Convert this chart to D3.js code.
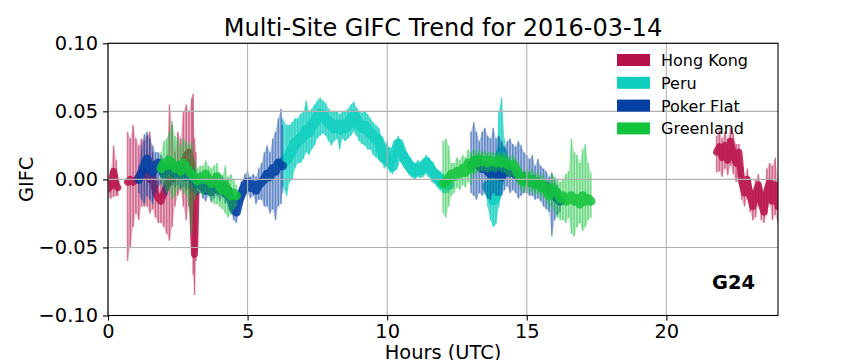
<!DOCTYPE html>
<html>
<head>
<meta charset="utf-8">
<script src="https://cdn.jsdelivr.net/npm/d3@7/dist/d3.min.js"></script>
<style>
body { margin: 0; background: #fff; }
text { font-family: "DejaVu Sans", sans-serif; fill: #000; }
</style>
</head>
<body>
<svg id="chart" width="864" height="360"></svg>
<script>
// sites, legend order
var siteNames = ["Hong Kong", "Peru", "Poker Flat", "Greenland"];
var siteColors = ["#b8124a", "#11cfbf", "#0340a3", "#14c43c"];
var xTicks = [0, 5, 10, 15, 20];
var yTicks = [-0.10, -0.05, 0.00, 0.05, 0.10];
var satellite = "G24";

// null breaks a series into separate passes
var hongKongHours = [0.0,0.1,0.2,0.3,0.35,null,
  0.7,0.8,0.9,1.0,1.1,1.2,1.3,1.4,1.5,1.6,1.7,1.8,1.9,2.0,2.1,2.2,2.3,2.4,2.5,2.6,2.7,2.8,2.9,3.0,3.05,3.1,3.15,null,
  21.8,21.9,22.0,22.1,22.2,22.3,22.4,22.5,22.6,22.7,22.8,22.9,23.0,23.1,23.2,23.3,23.4,23.5,23.6,23.7,23.8,23.9,24.0];
var hongKongMid = [-0.007,-0.005,0.006,-0.004,-0.006,null,
  -0.002,0.0,-0.002,0.0,0.002,0.005,0.006,0.002,0.0,0.002,-0.01,-0.014,-0.016,-0.01,-0.005,0.0,0.0,0.005,0.008,0.01,0.012,0.018,0.02,0.01,-0.03,-0.055,-0.01,null,
  0.02,0.024,0.016,0.025,0.014,0.028,0.018,0.012,0.02,-0.002,-0.01,0.0,-0.012,-0.02,-0.01,-0.004,-0.018,-0.024,-0.008,-0.002,-0.016,-0.004,-0.02];
var hongKongLow = [-0.014,-0.014,-0.013,-0.012,-0.012,null,
  -0.06,-0.05,-0.035,-0.025,-0.03,-0.02,-0.02,-0.02,-0.025,-0.022,-0.028,-0.032,-0.032,-0.035,-0.04,-0.045,-0.035,-0.02,-0.012,-0.008,-0.02,-0.03,-0.02,-0.03,-0.07,-0.085,-0.06,null,
  0.005,0.006,0.002,0.008,0.003,0.01,0.004,-0.002,0.002,-0.015,-0.02,-0.014,-0.024,-0.03,-0.028,-0.018,-0.03,-0.032,-0.026,-0.018,-0.03,-0.026,-0.032];
var hongKongHigh = [0.0,0.006,0.025,0.014,0.0,null,
  0.035,0.03,0.04,0.03,0.025,0.03,0.028,0.032,0.035,0.02,0.01,0.0,0.0,0.005,0.012,0.055,0.04,0.02,0.035,0.03,0.05,0.055,0.05,0.06,0.063,0.03,0.02,null,
  0.032,0.036,0.03,0.035,0.03,0.038,0.034,0.026,0.026,0.01,0.0,0.008,0.0,-0.008,0.0,0.004,-0.005,-0.01,0.008,0.012,0.01,0.016,0.0];

var peruHours = [6.25,6.4,6.5,6.6,6.7,6.8,6.9,7.0,7.1,7.2,7.3,7.4,7.5,7.6,7.7,7.8,7.9,8.0,8.1,8.2,8.3,8.4,8.5,8.6,8.7,8.8,8.9,9.0,
  9.1,9.2,9.3,9.4,9.5,9.6,9.7,9.8,9.9,10.0,10.1,10.2,10.3,10.4,10.5,10.6,10.7,10.8,10.9,11.0,11.1,11.2,11.3,11.4,11.5,11.6,11.7,11.8,11.9,12.0,12.2,null,
  13.6,13.7,13.8,13.9,14.0,14.1,14.2];
var peruMid = [0.012,0.015,0.018,0.022,0.026,0.028,0.03,0.032,0.036,0.035,0.04,0.042,0.046,0.048,0.047,0.044,0.042,0.04,0.038,0.04,0.037,0.04,0.038,0.04,0.044,0.047,0.044,0.04,
  0.038,0.039,0.036,0.034,0.032,0.03,0.028,0.022,0.016,0.02,0.012,0.01,0.02,0.026,0.02,0.016,0.013,0.01,0.007,0.006,0.008,0.007,0.008,0.012,0.01,0.005,0.004,0.001,-0.001,-0.003,-0.004,null,
  -0.005,-0.01,-0.015,-0.012,0.01,0.02,0.01];
var peruLow = [-0.005,-0.012,-0.002,0.0,0.008,0.012,0.012,0.015,0.02,0.018,0.022,0.025,0.03,0.032,0.034,0.032,0.028,0.025,0.028,0.03,0.022,0.03,0.028,0.03,0.032,0.035,0.032,0.028,
  0.026,0.025,0.022,0.022,0.018,0.016,0.014,0.012,0.008,0.012,0.005,0.004,0.012,0.018,0.013,0.009,0.006,0.003,0.001,0.0,0.002,0.001,0.002,0.005,0.004,-0.002,-0.003,-0.006,-0.008,-0.01,-0.01,null,
  -0.02,-0.03,-0.035,-0.033,-0.02,-0.01,0.0];
var peruHigh = [0.045,0.04,0.04,0.042,0.045,0.045,0.048,0.05,0.058,0.05,0.052,0.055,0.058,0.06,0.058,0.056,0.052,0.05,0.05,0.05,0.048,0.05,0.05,0.052,0.055,0.057,0.053,0.05,
  0.049,0.05,0.048,0.045,0.042,0.04,0.038,0.032,0.025,0.028,0.02,0.018,0.028,0.032,0.027,0.022,0.02,0.016,0.013,0.012,0.014,0.013,0.014,0.018,0.016,0.012,0.01,0.007,0.006,0.004,0.003,null,
  0.005,0.01,0.005,0.01,0.05,0.06,0.03];

var pokerHours = [1.1,1.2,1.3,1.4,1.5,1.6,1.7,1.8,1.9,2.0,2.1,2.2,2.3,2.4,2.5,2.6,2.7,2.8,2.9,3.0,3.1,3.2,3.3,3.4,3.5,3.6,3.7,3.8,3.9,4.0,
  4.1,4.2,4.3,4.4,4.5,4.6,4.7,4.8,4.9,5.0,5.1,5.2,5.3,5.4,5.5,5.6,5.7,5.8,5.9,6.0,6.1,6.2,6.25,null,
  13.0,13.1,13.2,13.3,13.4,13.5,13.6,13.7,13.8,13.9,14.0,14.1,14.2,14.3,14.4,14.5,14.6,14.7,14.8,14.9,15.0,15.1,15.2,15.3,15.4,15.5,15.6,15.7,15.8,15.9,16.0,16.1,16.2];
var pokerMid = [0.0,0.005,0.01,0.015,0.008,0.005,0.01,0.012,0.01,0.004,0.008,0.007,0.006,0.004,0.006,0.003,0.005,0.002,0.004,0.001,0.0,-0.004,-0.002,-0.006,-0.008,-0.004,-0.009,-0.006,-0.004,-0.008,
  -0.005,-0.01,-0.008,-0.015,-0.022,-0.024,-0.015,-0.01,-0.004,-0.002,-0.006,-0.004,-0.008,-0.004,-0.002,0.0,0.004,0.002,0.008,0.006,0.012,0.01,0.01,null,
  0.01,0.012,0.014,0.01,0.008,0.01,0.006,0.004,0.008,0.004,0.006,0.002,0.006,0.008,0.005,0.006,0.004,0.002,0.0,0.002,0.0,-0.002,0.0,-0.003,-0.002,-0.004,-0.006,-0.005,-0.008,-0.01,-0.012,-0.014,-0.016];
var pokerLow = [-0.01,-0.015,-0.018,-0.012,-0.015,-0.018,-0.01,-0.005,-0.003,-0.01,-0.012,-0.006,-0.004,-0.006,-0.004,-0.007,-0.005,-0.008,-0.006,-0.009,-0.01,-0.012,-0.01,-0.014,-0.016,-0.012,-0.017,-0.014,-0.012,-0.016,
  -0.013,-0.018,-0.016,-0.023,-0.03,-0.032,-0.023,-0.018,-0.012,-0.01,-0.014,-0.012,-0.018,-0.015,-0.015,-0.02,-0.02,-0.025,-0.022,-0.03,-0.02,-0.018,-0.01,null,
  -0.01,-0.012,-0.015,-0.01,-0.012,-0.01,-0.014,-0.015,-0.01,-0.012,-0.012,-0.012,-0.008,-0.005,-0.01,-0.008,-0.01,-0.014,-0.012,-0.01,-0.01,-0.012,-0.012,-0.015,-0.014,-0.016,-0.02,-0.022,-0.024,-0.042,-0.03,-0.026,-0.024];
var pokerHigh = [0.01,0.025,0.033,0.035,0.03,0.025,0.02,0.02,0.018,0.015,0.018,0.015,0.014,0.012,0.014,0.011,0.013,0.01,0.012,0.009,0.008,0.004,0.006,0.002,0.0,0.004,-0.001,0.002,0.004,0.0,
  0.003,-0.002,0.0,-0.007,-0.014,-0.016,-0.007,-0.002,0.004,0.006,0.002,0.004,0.002,0.008,0.012,0.02,0.025,0.02,0.03,0.035,0.045,0.052,0.04,null,
  0.035,0.042,0.035,0.028,0.035,0.038,0.032,0.03,0.038,0.03,0.032,0.028,0.024,0.028,0.03,0.026,0.024,0.028,0.025,0.02,0.018,0.015,0.018,0.01,0.015,0.01,0.008,0.006,0.002,0.005,0.0,-0.004,-0.008];

var greenlandHours = [1.9,2.0,2.1,2.2,2.3,2.4,2.5,2.6,2.7,2.8,2.9,3.0,3.1,3.2,3.3,3.4,3.5,3.6,3.7,3.8,3.9,4.0,4.1,4.2,4.3,4.4,4.5,4.6,null,
  12.0,12.1,12.2,12.3,12.4,12.5,12.6,12.7,12.8,12.9,13.0,13.1,13.2,13.3,13.4,13.5,13.6,13.7,13.8,13.9,14.0,14.1,14.2,14.3,14.4,14.5,14.6,14.7,
  14.8,14.9,15.0,15.1,15.2,15.3,15.4,15.5,15.6,15.7,15.8,15.9,16.0,16.1,16.2,16.3,16.4,16.5,16.6,16.7,16.8,16.9,17.0,17.1,17.2,17.3];
var greenlandMid = [0.008,0.012,0.01,0.014,0.012,0.008,0.01,0.006,0.012,0.009,0.006,0.004,0.002,-0.001,0.001,0.0,0.004,0.0,-0.003,-0.002,0.002,-0.006,-0.008,-0.004,-0.01,-0.012,-0.01,-0.012,null,
  -0.003,-0.002,0.0,0.004,0.002,0.006,0.004,0.008,0.005,0.012,0.008,0.014,0.012,0.015,0.013,0.014,0.012,0.014,0.013,0.012,0.014,0.012,0.013,0.011,0.01,0.011,0.008,0.004,
  0.0,-0.002,0.002,-0.002,0.0,-0.004,-0.002,-0.006,-0.004,-0.008,-0.012,-0.006,-0.008,-0.01,-0.014,-0.012,-0.016,-0.014,-0.012,-0.016,-0.014,-0.018,-0.012,-0.016,-0.014,-0.016];
var greenlandLow = [-0.002,-0.005,-0.01,-0.008,-0.015,-0.012,-0.008,-0.006,-0.01,-0.012,-0.02,-0.04,-0.015,-0.01,-0.01,-0.012,-0.01,-0.012,-0.015,-0.018,-0.018,-0.02,-0.022,-0.025,-0.028,-0.026,-0.022,-0.02,null,
  -0.025,-0.028,-0.02,-0.012,-0.01,-0.006,-0.008,-0.004,-0.006,-0.002,-0.004,0.004,0.004,0.006,0.006,0.006,0.005,0.006,0.006,0.005,0.007,0.005,0.005,0.003,0.002,0.002,0.0,-0.004,
  -0.008,-0.01,-0.006,-0.01,-0.008,-0.012,-0.01,-0.014,-0.012,-0.016,-0.022,-0.02,-0.025,-0.028,-0.03,-0.03,-0.032,-0.028,-0.04,-0.042,-0.035,-0.032,-0.038,-0.035,-0.03,-0.028];
var greenlandHigh = [0.02,0.028,0.03,0.035,0.043,0.032,0.03,0.025,0.03,0.028,0.025,0.028,0.015,0.008,0.01,0.01,0.014,0.01,0.008,0.01,0.012,0.005,0.003,0.01,0.002,0.004,0.0,-0.004,null,
  0.028,0.03,0.025,0.012,0.012,0.016,0.014,0.018,0.016,0.022,0.02,0.022,0.02,0.022,0.02,0.021,0.02,0.02,0.02,0.019,0.02,0.019,0.02,0.018,0.017,0.018,0.015,0.012,
  0.008,0.006,0.008,0.006,0.008,0.004,0.006,0.002,0.004,0.0,-0.002,0.004,0.002,0.0,-0.002,0.0,0.004,0.006,0.03,0.02,0.018,0.012,0.022,0.026,0.012,0.005];

var series = [
  {hours: hongKongHours, mid: hongKongMid, low: hongKongLow, high: hongKongHigh},
  {hours: peruHours, mid: peruMid, low: peruLow, high: peruHigh},
  {hours: pokerHours, mid: pokerMid, low: pokerLow, high: pokerHigh},
  {hours: greenlandHours, mid: greenlandMid, low: greenlandLow, high: greenlandHigh}
];
// how dense each site's cloud looks
var spreadOpacity = [0.28, 0.65, 0.3, 0.3];
var streakOpacity = [0.5, 0.6, 0.45, 0.45];
var coreWidth = [7, 11, 9, 9];

var svg = d3.select("#chart");
var plotLeft = 108, plotRight = 778, plotTop = 43.3, plotBottom = 315.5;

var x = d3.scaleLinear().domain([0, 24]).range([plotLeft, plotRight]);
var y = d3.scaleLinear().domain([-0.1, 0.1]).range([plotBottom, plotTop]);

svg.append("clipPath").attr("id", "plotclip")
  .append("rect")
    .attr("x", plotLeft).attr("y", plotTop)
    .attr("width", plotRight - plotLeft).attr("height", plotBottom - plotTop);

var plot = svg.append("g").attr("clip-path", "url(#plotclip)");

series.forEach(function(s, k) {
  var idx = d3.range(s.hours.length);
  var has = function(i) { return s.hours[i] != null; };
  var spread = d3.area()
    .defined(has)
    .x(function(i) { return x(s.hours[i]); })
    .y0(function(i) { return y(s.low[i]); })
    .y1(function(i) { return y(s.high[i]); });
  var core = d3.line()
    .defined(has)
    .x(function(i) { return x(s.hours[i]); })
    .y(function(i) { return y(s.mid[i]); });

  var g = plot.append("g");
  g.append("path")
    .attr("d", spread(idx))
    .style("fill", siteColors[k])
    .style("fill-opacity", spreadOpacity[k])
    .style("stroke", "none");
  // one faint streak per sample, like the scattered points
  g.selectAll("streak")
    .data(idx.filter(has))
    .enter()
    .append("line")
      .attr("x1", function(i) { return x(s.hours[i]); })
      .attr("x2", function(i) { return x(s.hours[i]); })
      .attr("y1", function(i) { return y(s.low[i]); })
      .attr("y2", function(i) { return y(s.high[i]); })
      .style("stroke", siteColors[k])
      .style("stroke-width", 1.6)
      .style("stroke-opacity", streakOpacity[k]);
  g.append("path")
    .attr("d", core(idx))
    .style("fill", "none")
    .style("stroke", siteColors[k])
    .style("stroke-width", coreWidth[k])
    .style("stroke-linejoin", "round")
    .style("stroke-linecap", "round")
    .style("opacity", 0.88);
});

// grid sits on top of the scatter, like matplotlib
var grid = svg.append("g");
grid.selectAll("xgrid").data(xTicks).enter().append("line")
  .attr("x1", function(d) { return x(d); }).attr("x2", function(d) { return x(d); })
  .attr("y1", plotTop).attr("y2", plotBottom)
  .style("stroke", "#b0b0b0").style("stroke-width", 1.1);
grid.selectAll("ygrid").data(yTicks).enter().append("line")
  .attr("x1", plotLeft).attr("x2", plotRight)
  .attr("y1", function(d) { return y(d); }).attr("y2", function(d) { return y(d); })
  .style("stroke", "#b0b0b0").style("stroke-width", 1.1);

var fmt = function(d) { return d3.format(".2f")(d).replace("-", "\u2212"); };

var xAxis = svg.append("g")
  .attr("transform", "translate(0," + plotBottom + ")")
  .call(d3.axisBottom(x).tickValues(xTicks).tickSize(5).tickPadding(4).tickFormat(d3.format("d")));
var yAxis = svg.append("g")
  .attr("transform", "translate(" + plotLeft + ",0)")
  .call(d3.axisLeft(y).tickValues(yTicks).tickSize(5).tickPadding(5).tickFormat(fmt));

[xAxis, yAxis].forEach(function(a) {
  a.select(".domain").remove();
  a.selectAll("line").style("stroke", "#000").style("stroke-width", 1.1);
  a.selectAll("text").style("font-family", "DejaVu Sans").style("font-size", "19.4px").style("fill", "#000");
});

// frame
svg.append("rect")
  .attr("x", plotLeft).attr("y", plotTop)
  .attr("width", plotRight - plotLeft).attr("height", plotBottom - plotTop)
  .style("fill", "none").style("stroke", "#000").style("stroke-width", 1.1);

svg.append("text")
  .attr("x", (plotLeft + plotRight) / 2).attr("y", 36)
  .attr("text-anchor", "middle")
  .style("font-size", "24px")
  .text("Multi-Site GIFC Trend for 2016-03-14");

svg.append("text")
  .attr("x", (plotLeft + plotRight) / 2).attr("y", 359)
  .attr("text-anchor", "middle")
  .style("font-size", "19.4px")
  .text("Hours (UTC)");

svg.append("text")
  .attr("transform", "translate(33," + (plotTop + plotBottom) / 2 + ") rotate(-90)")
  .attr("text-anchor", "middle")
  .style("font-size", "19.4px")
  .text("GIFC");

svg.append("text")
  .attr("x", 755).attr("y", 288.5)
  .attr("text-anchor", "end")
  .style("font-size", "19.4px")
  .style("font-weight", "bold")
  .text(satellite);

// legend, no frame
var legend = svg.append("g");
legend.selectAll("legendpatch")
  .data(siteNames)
  .enter()
  .append("rect")
    .attr("x", 617)
    .attr("y", function(d, i) { return 54 + i * 22.8; })
    .attr("width", 33)
    .attr("height", 12)
    .style("fill", function(d, i) { return siteColors[i]; });
legend.selectAll("legendlabel")
  .data(siteNames)
  .enter()
  .append("text")
    .attr("x", 661)
    .attr("y", function(d, i) { return 66 + i * 22.8; })
    .style("font-size", "16px")
    .text(function(d) { return d; });
</script>
</body>
</html>
